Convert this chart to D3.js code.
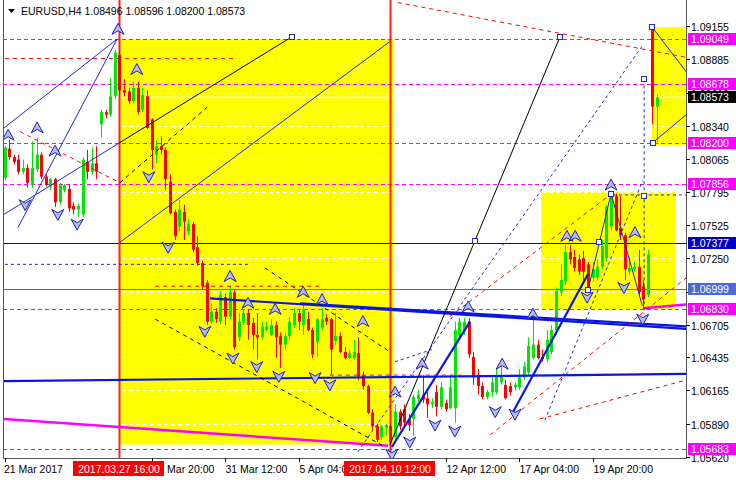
<!DOCTYPE html>
<html>
<head>
<meta charset="utf-8">
<script src="https://cdn.jsdelivr.net/npm/d3@7"></script>
<style>
  body { margin: 0; background: #fff; }
  svg { display: block; font-family: "Liberation Sans", Arial, sans-serif; }
</style>
</head>
<body>
<svg id="chart" width="736" height="480"></svg>
<script>
// ---- candles (EURUSD H4), one entry per bar ----
var opens = [1.0791,1.0815,1.0808,1.0806,1.0796,1.0799,1.0785,1.0798,1.0810,1.0792,
  1.0784,1.0790,1.0771,1.0781,1.0782,1.0768,1.0765,1.0761,1.0804,1.0796,
  1.0803,1.0835,1.0845,1.0843,1.0858,1.0892,1.0863,1.0862,1.0854,1.0865,
  1.0847,1.0858,1.0839,1.0810,1.0817,1.0814,1.0788,1.0763,1.0751,1.0763,
  1.0747,1.0753,1.0734,1.0721,1.0705,1.0673,1.0681,1.0673,1.0693,1.0677,
  1.0697,1.0660,1.0672,1.0680,1.0672,1.0662,1.0660,1.0666,1.0662,1.0670,
  1.0661,1.0654,1.0661,1.0670,1.0680,1.0670,1.0675,1.0666,1.0656,1.0668,
  1.0676,1.0675,1.0657,1.0661,1.0648,1.0643,1.0643,1.0647,1.0629,1.0620,
  1.0598,1.0587,1.0578,1.0586,1.0587,1.0578,1.0599,1.0601,1.0593,1.0593,
  1.0609,1.0613,1.0610,1.0605,1.0615,1.0603,1.0606,1.0602,1.0602,1.0661,
  1.0665,1.0673,1.0644,1.0628,1.0620,1.0611,1.0615,1.0615,1.0623,1.0621,
  1.0620,1.0619,1.0619,1.0627,1.0631,1.0643,1.0654,1.0644,1.0642,1.0648,
  1.0666,1.0697,1.0706,1.0730,1.0726,1.0724,1.0725,1.0720,1.0709,1.0709,
  1.0718,1.0725,1.0751,1.0776,1.0750,1.0744,1.0714,1.0716,1.0718,1.0702,
  1.0695,1.09150,1.08496];
var highs = [1.0817,1.0822,1.0810,1.0810,1.0806,1.0802,1.0821,1.0824,1.0812,1.0794,
  1.0791,1.0791,1.0787,1.0786,1.0785,1.0771,1.0770,1.0808,1.0814,1.0816,
  1.0817,1.0847,1.0847,1.0873,1.0896,1.0895,1.0872,1.0865,1.0870,1.0870,
  1.0865,1.0863,1.0840,1.0822,1.0825,1.0816,1.0794,1.0765,1.0773,1.0769,
  1.0757,1.0755,1.0743,1.0723,1.0707,1.0688,1.0684,1.0698,1.0696,1.0702,
  1.0699,1.0680,1.0683,1.0683,1.0676,1.0680,1.0673,1.0673,1.0675,1.0673,
  1.0664,1.0664,1.0677,1.0684,1.0683,1.0687,1.0681,1.0668,1.0676,1.0684,
  1.0679,1.0676,1.0680,1.0664,1.0652,1.0650,1.0658,1.0660,1.0632,1.0621,
  1.0601,1.0589,1.0588,1.0589,1.0588,1.0605,1.0601,1.0605,1.0597,1.0613,
  1.0617,1.0629,1.0615,1.0610,1.0621,1.0623,1.0609,1.0629,1.0673,1.0676,
  1.0676,1.0676,1.0648,1.0634,1.0623,1.0617,1.0629,1.0634,1.0638,1.0625,
  1.0623,1.0623,1.0634,1.0640,1.0660,1.0676,1.0658,1.0650,1.0666,1.0670,
  1.0701,1.0720,1.0736,1.0736,1.0732,1.0728,1.0731,1.0722,1.0722,1.0724,
  1.0740,1.0769,1.0778,1.0778,1.0776,1.0746,1.0726,1.0722,1.0732,1.0707,
  1.0732,1.09155,1.08596];
var lows = [1.0789,1.0806,1.0802,1.0794,1.0794,1.0783,1.0783,1.0796,1.0790,1.0784,
  1.0781,1.0767,1.0769,1.0779,1.0763,1.0761,1.0759,1.0759,1.0790,1.0794,
  1.0790,1.0824,1.0840,1.0841,1.0856,1.0859,1.0858,1.0852,1.0852,1.0843,
  1.0845,1.0831,1.0798,1.0803,1.0810,1.0781,1.0761,1.0740,1.0747,1.0740,
  1.0744,1.0730,1.0719,1.0699,1.0670,1.0671,1.0672,1.0671,1.0670,1.0675,
  1.0650,1.0657,1.0670,1.0658,1.0650,1.0642,1.0658,1.0665,1.0661,1.0643,
  1.0635,1.0650,1.0658,1.0668,1.0666,1.0662,1.0665,1.0643,1.0644,1.0666,
  1.0670,1.0629,1.0654,1.0647,1.0642,1.0642,1.0642,1.0625,1.0617,1.0597,
  1.0584,1.0574,1.0576,1.0579,1.0568,1.0576,1.0584,1.0587,1.0583,1.0579,
  1.0607,1.0606,1.0594,1.0602,1.0595,1.0601,1.0599,1.0601,1.0590,1.0658,
  1.0662,1.0643,1.0621,1.0613,1.0609,1.0609,1.0611,1.0613,1.0621,1.0609,
  1.0612,1.0616,1.0617,1.0625,1.0629,1.0642,1.0642,1.0640,1.0640,1.0646,
  1.0662,1.0694,1.0703,1.0720,1.0714,1.0711,1.0707,1.0698,1.0706,1.0707,
  1.0716,1.0722,1.0748,1.0747,1.0740,1.0707,1.0711,1.0714,1.0693,1.0683,
  1.0693,1.08350,1.08200];
var closes = [1.0816,1.0808,1.0804,1.0796,1.0799,1.0787,1.0799,1.0810,1.0792,1.0785,
  1.0790,1.0771,1.0785,1.0785,1.0766,1.0765,1.0768,1.0806,1.0796,1.0803,
  1.0796,1.0845,1.0843,1.0858,1.0894,1.0863,1.0861,1.0854,1.0865,1.0845,
  1.0859,1.0832,1.0814,1.0817,1.0814,1.0790,1.0762,1.0743,1.0765,1.0755,
  1.0753,1.0732,1.0721,1.0702,1.0673,1.0681,1.0675,1.0695,1.0677,1.0697,
  1.0652,1.0673,1.0680,1.0670,1.0662,1.0660,1.0669,1.0669,1.0670,1.0660,
  1.0654,1.0661,1.0673,1.0680,1.0673,1.0683,1.0666,1.0646,1.0675,1.0675,
  1.0673,1.0650,1.0661,1.0648,1.0643,1.0647,1.0648,1.0628,1.0620,1.0598,
  1.0587,1.0576,1.0587,1.0588,1.0574,1.0599,1.0587,1.0590,1.0588,1.0611,
  1.0613,1.0609,1.0605,1.0607,1.0603,1.0619,1.0601,1.0619,1.0666,1.0673,
  1.0673,1.0646,1.0627,1.0620,1.0611,1.0615,1.0623,1.0629,1.0629,1.0610,
  1.0615,1.0621,1.0629,1.0636,1.0653,1.0654,1.0643,1.0642,1.0658,1.0666,
  1.0698,1.0707,1.0730,1.0724,1.0717,1.0714,1.0714,1.0701,1.0716,1.0718,
  1.0735,1.0767,1.0775,1.0748,1.0744,1.0716,1.0717,1.0718,1.0697,1.0691,
  1.0728,1.08496,1.08573];

// ---- axes ----
var priceTicks = [1.09155,1.08885,1.08610,1.08340,1.08065,1.07795,1.07525,1.07250,
  1.06975,1.06705,1.06435,1.06165,1.05890,1.05620];
var coveredPriceLabel = 1.06975; // sits under the 1.06999 tag
var timeTicks = [0,32,48,64,96,112,128];
var timeLabels = ["21 Mar 2017","28 Mar 20:00","31 Mar 12:00","5 Apr 04:00",
  "12 Apr 12:00","17 Apr 04:00","19 Apr 20:00"];
var markedBars = [25, 84];
var markedLabels = ["2017.03.27 16:00","2017.04.10 12:00"];

// ---- levels and price tags ----
var magentaLevels = [1.09049,1.08678,1.08200,1.07856,1.06830,1.05683];
var navyLevel = 1.07377;
var steelLevel = 1.06999;
var bidPrice = 1.08573;
var titleValues = [1.08496,1.08596,1.08200,1.08573];

// ---- drawn objects: [bar1, price1, bar2, price2] ----
var yellowZones = [[25.1,1.09049,84.8,1.0572],[116.8,1.07795,146.1,1.06830],[140.9,1.0915,148.4,1.0818]];
var thickBlue = [[-1,1.0624,148.4,1.0630],[44.7,1.0692,148.4,1.0667],[64.3,1.0688,148.4,1.0669],
  [84.3,1.0570,101.3,1.0673],[110.7,1.0599,127,1.0712]];
var thinBlue = [[-0.1,1.0832,24.5,1.0905],[2.9,1.0750,24.5,1.0905],[-1,1.0759,25.1,1.0820],
  [25.1,1.0738,83.9,1.0903],[127.0,1.0699,132.0,1.0778],[132.0,1.0778,138.8,1.0686],
  [140.9,1.0915,148.4,1.0878],[141.1,1.0820,148.4,1.0843]];
var blackSolid = [[83.9,1.0572,120.9,1.0907],[25.1,1.0820,62.6,1.0907]];
var blackDashed = [[25.1,1.0787,44.1,1.0849],[56.7,1.0717,83.9,1.0648],[32.8,1.0675,82.8,1.0570]];
var redDashed = [[0.1,1.0889,50.2,1.0889],[32.8,1.0702,68.7,1.0702],[70.8,1.0629,100.2,1.0629],
  [96.9,1.0677,131.8,1.0777],[105.7,1.0580,148.4,1.0709],[116.5,1.0593,148.4,1.0625],
  [85.6,1.0935,148.4,1.0890],[3.4,1.0829,25.1,1.0787]];
var blueDashed = [[139.2,1.0872,139.2,1.0679],[132.4,1.0777,148.4,1.0777],[0.1,1.0720,53.4,1.0720],
  [76.9,1.0566,138.9,1.0900],[117.6,1.0592,138.9,1.0789],[85.0,1.0640,93.0,1.0650]];
var magentaTrend = [[-0.1,1.0593,83.5,1.0571],[139,1.0684,148.4,1.0687]];

// ---- markers: [bar, price] ----
var upArrows = [[24.7,1.0913],[0.8,1.0826],[7.1,1.0832],[11.0,1.0813],[28.8,1.0880],[49.1,1.0710],
  [53.0,1.0688],[58.9,1.0683],[65.0,1.0697],[69.1,1.0691],[78.0,1.0673],[85.0,1.0615],
  [90.9,1.0638],[100.9,1.0685],[108.3,1.0638],[115.0,1.0679],[122.4,1.0743],[124.2,1.0743],
  [132.0,1.0785],[137.2,1.0746]];
var downArrows = [[4.5,1.0769],[11.6,1.0761],[15.8,1.0753],[31.4,1.0792],[35.6,1.0734],[43.6,1.0665],
  [49.7,1.0643],[54.9,1.0636],[59.7,1.0628],[67.6,1.0627],[70.8,1.0621],[84.3,1.0564],
  [88.2,1.0574],[93.7,1.0588],[98.0,1.0583],[106.8,1.0599],[111.1,1.0597],[126.8,1.0693],
  [134.8,1.0701],[138.9,1.0675]];
var squares = [[62.6,1.0907],[102.4,1.0739],[120.9,1.0907],[127.0,1.0699],[129.4,1.0738],
  [132.0,1.0778],[140.9,1.0915],[141.1,1.0820],[139.2,1.0872],[139.2,1.0776]];

var svg = d3.select("#chart");
var W = 736, H = 480;
var plotL = 3, plotR = 686, plotB = 458;

var x = d3.scaleLinear().domain([0, 142]).range([4.5, 657]);
var y = d3.scaleLinear().domain([1.05620, 1.09155]).range([456.7, 26.3]);

svg.append("rect").attr("width", W).attr("height", H).attr("fill", "#fff");

svg.append("defs").append("clipPath").attr("id", "plot")
  .append("rect").attr("x", plotL).attr("y", 0).attr("width", plotR - plotL).attr("height", plotB);

var g = svg.append("g").attr("clip-path", "url(#plot)");

// yellow zones
g.selectAll("rect.zone").data(yellowZones).enter().append("rect")
  .attr("class", "zone")
  .attr("x", d => x(d[0])).attr("y", d => y(d[1]))
  .attr("width", d => x(d[2]) - x(d[0])).attr("height", d => y(d[3]) - y(d[1]))
  .attr("fill", "#ffff00");

// grid (white, only shows on yellow)
g.selectAll("line.grid").data(priceTicks).enter().append("line")
  .attr("x1", plotL).attr("x2", plotR)
  .attr("y1", d => Math.round(y(d)) + 0.5).attr("y2", d => Math.round(y(d)) + 0.5)
  .attr("stroke", "#fff").attr("stroke-dasharray", "4,3");

function hline(p, color, dash, width) {
  g.append("line").attr("x1", plotL).attr("x2", plotR)
    .attr("y1", Math.round(y(p)) + 0.5).attr("y2", Math.round(y(p)) + 0.5)
    .attr("stroke", color).attr("stroke-width", width || 1)
    .attr("stroke-dasharray", dash || null);
}
hline(bidPrice, "#fff", null, 1.5);
magentaLevels.forEach(p => hline(p, "#ff00ff", "4,3"));
hline(navyLevel, "#0000b4");
hline(steelLevel, "#4a6ad8");

function segs(data, color, width, dash) {
  g.append("g").selectAll("line").data(data).enter().append("line")
    .attr("x1", d => x(d[0])).attr("y1", d => y(d[1]))
    .attr("x2", d => x(d[2])).attr("y2", d => y(d[3]))
    .attr("stroke", color).attr("stroke-width", width)
    .attr("stroke-dasharray", dash || null);
}

// red vertical markers
markedBars.forEach(function (b) {
  g.append("line").attr("x1", Math.round(x(b)) + 0.5).attr("x2", Math.round(x(b)) + 0.5)
    .attr("y1", 0).attr("y2", plotB).attr("stroke", "#ff2020").attr("stroke-width", 2);
});

// candles
var bars = d3.range(opens.length).map(i => ({i: i, o: opens[i], h: highs[i], l: lows[i], c: closes[i]}));
var cg = g.append("g");
cg.selectAll("line").data(bars).enter().append("line")
  .attr("x1", d => Math.round(x(d.i)) + 0.5).attr("x2", d => Math.round(x(d.i)) + 0.5)
  .attr("y1", d => y(d.h)).attr("y2", d => y(d.l))
  .attr("stroke", d => d.c >= d.o ? "#00e600" : "#ff0000");
cg.selectAll("rect").data(bars).enter().append("rect")
  .attr("x", d => Math.round(x(d.i)) - 1)
  .attr("y", d => y(Math.max(d.o, d.c)))
  .attr("width", 3)
  .attr("height", d => Math.max(1, Math.abs(y(d.o) - y(d.c))))
  .attr("fill", d => d.c >= d.o ? "#00e600" : "#ff0000");

// objects
segs(magentaTrend, "#ff00ff", 2.5);
segs(thickBlue, "#0a14e6", 2.2);
segs(thinBlue, "#1e28d2", 1);
segs(blackSolid, "#000", 1);
segs(blackDashed, "#000", 1, "4,4");
segs(redDashed, "#ff0000", 1, "4,4");
segs(blueDashed, "#1e28d2", 1, "3,3");

// arrows
var arrowUp = "M0,-6 L6,5 L0,1.5 L-6,5 Z";
var arrowDown = "M0,6 L6,-5 L0,-1.5 L-6,-5 Z";
g.selectAll("path.up").data(upArrows).enter().append("path")
  .attr("d", arrowUp)
  .attr("transform", d => "translate(" + x(d[0]) + "," + y(d[1]) + ")")
  .attr("fill", "#b4bcff").attr("stroke", "#2020b0").attr("stroke-width", 1);
g.selectAll("path.dn").data(downArrows).enter().append("path")
  .attr("d", arrowDown)
  .attr("transform", d => "translate(" + x(d[0]) + "," + y(d[1]) + ")")
  .attr("fill", "#b4bcff").attr("stroke", "#2020b0").attr("stroke-width", 1);
g.selectAll("rect.sq").data(squares).enter().append("rect")
  .attr("x", d => Math.round(x(d[0])) - 2.5).attr("y", d => Math.round(y(d[1])) - 2.5)
  .attr("width", 5).attr("height", 5)
  .attr("fill", "#fff").attr("stroke", "#1e28d2");

// frame
svg.append("path")
  .attr("d", "M" + (plotL + 0.5) + ",0 V" + (plotB + 0.5) + " H" + (plotR + 0.5) + " V0")
  .attr("fill", "none").attr("stroke", "#555");

// price axis
var ya = svg.append("g");
priceTicks.forEach(function (p) {
  var yy = Math.round(y(p)) + 0.5;
  ya.append("line").attr("x1", plotR).attr("x2", plotR + 4).attr("y1", yy).attr("y2", yy).attr("stroke", "#000");
  if (p !== coveredPriceLabel) {
    ya.append("text").attr("x", 691).attr("y", yy + 4).attr("font-size", 10.5).attr("fill", "#000").text(p.toFixed(5));
  }
});

function tag(p, bg) {
  var yy = Math.round(y(p));
  ya.append("rect").attr("x", 688).attr("y", yy - 6).attr("width", 48).attr("height", 12).attr("fill", bg);
  ya.append("text").attr("x", 691).attr("y", yy + 4).attr("font-size", 10.5).attr("fill", "#fff").text(p.toFixed(5));
}
magentaLevels.forEach(p => tag(p, "#ff00ff"));
tag(navyLevel, "#0000c8");
tag(steelLevel, "#4a6ad8");
tag(bidPrice, "#000");

// time axis
var xa = svg.append("g");
timeTicks.forEach(function (t, k) {
  var xx = Math.round(x(t)) + 0.5;
  xa.append("line").attr("x1", xx).attr("x2", xx).attr("y1", plotB).attr("y2", plotB + 4).attr("stroke", "#000");
  xa.append("text").attr("x", k === 0 ? 4 : xx).attr("y", 473).attr("font-size", 10.5).attr("fill", "#000").text(timeLabels[k]);
});
markedBars.forEach(function (b, k) {
  var xx = Math.round(x(b));
  xa.append("rect").attr("x", xx - 46).attr("y", 461).attr("width", 91).attr("height", 15).attr("fill", "#ff0000");
  xa.append("text").attr("x", xx).attr("y", 473).attr("text-anchor", "middle")
    .attr("font-size", 10.5).attr("fill", "#fff").text(markedLabels[k]);
});

// title
svg.append("path").attr("d", "M8,9 L15,9 L11.5,13 Z").attr("fill", "#000");
svg.append("text").attr("x", 21).attr("y", 15).attr("font-size", 10.5).attr("fill", "#000")
  .text("EURUSD,H4  " + titleValues.map(v => v.toFixed(5)).join(" "));
</script>
</body>
</html>
